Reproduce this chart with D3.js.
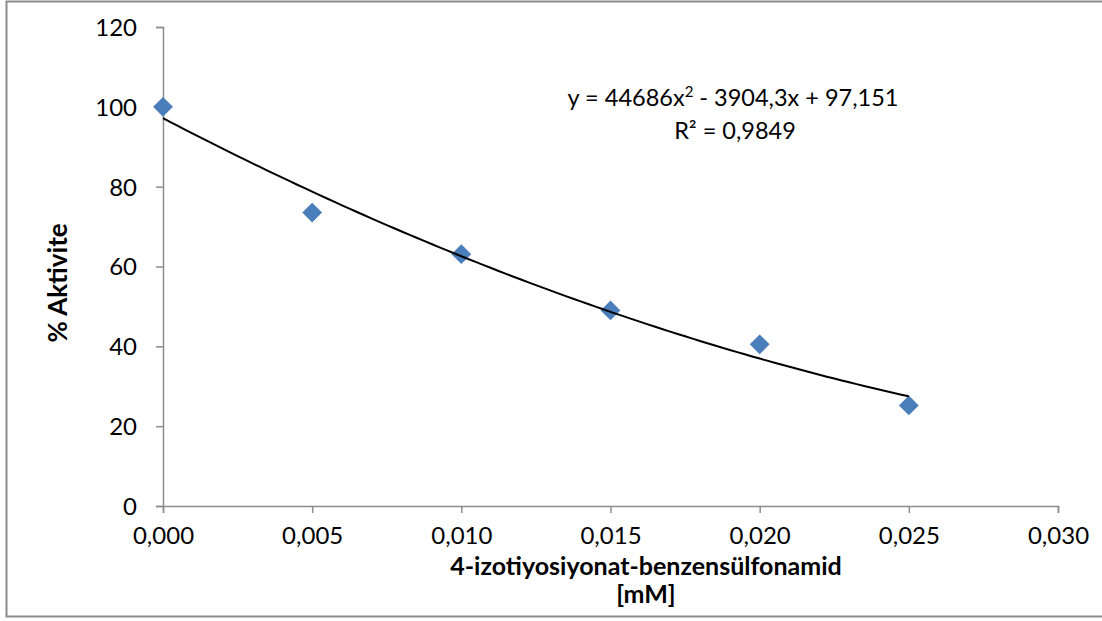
<!DOCTYPE html>
<html>
<head>
<meta charset="utf-8">
<script src="https://cdn.jsdelivr.net/npm/d3@7"></script>
<style>
  html, body { margin: 0; padding: 0; background: #fff; }
  svg { display: block; }
  text { font-family: Lato, "Open Sans", sans-serif; fill: #000; }
</style>
</head>
<body>
<svg id="chart" width="1102" height="621"></svg>
<script>
// Concentration (mM) and remaining activity (%)
const concentrations = [0.000, 0.005, 0.010, 0.015, 0.020, 0.025];
const activity = [100, 73.5, 63.1, 49, 40.5, 25.2];

// Axis ticks
const xTicks = [0.000, 0.005, 0.010, 0.015, 0.020, 0.025, 0.030];
const yTicks = [0, 20, 40, 60, 80, 100, 120];

// Polynomial trendline coefficients (a*x^2 + b*x + c) and its R²
const trendCoefs = [44686, -3904.3, 97.151];
const rSquared = "0,9849";

const svg = d3.select("#chart");
const W = 1102, H = 621;

// Outer chart border
svg.append("rect")
  .attr("x", 6.5).attr("y", 1.5)
  .attr("width", W + 10).attr("height", 615)
  .attr("fill", "#fff")
  .attr("stroke", "#8c8c8c").attr("stroke-width", 2);

const plot = { left: 163, right: 1058, top: 27, bottom: 506 };

const x = d3.scaleLinear().domain([0, 0.030]).range([plot.left, plot.right]);
const y = d3.scaleLinear().domain([0, 120]).range([plot.bottom, plot.top]);

const fmt = d => d3.format(".3f")(d).replace(".", ",");

// X axis
const xAxis = svg.append("g")
  .attr("transform", `translate(0,${plot.bottom})`)
  .call(d3.axisBottom(x).tickValues(xTicks).tickFormat(fmt).tickSize(7).tickPadding(14));
// Y axis
const yAxis = svg.append("g")
  .attr("transform", `translate(${plot.left},0)`)
  .call(d3.axisLeft(y).tickValues(yTicks).tickSize(7).tickPadding(19));

[xAxis, yAxis].forEach(g => {
  g.select(".domain").attr("stroke", "#8c8c8c").attr("stroke-width", 1.5);
  g.selectAll(".tick line").attr("stroke", "#8c8c8c").attr("stroke-width", 1.5);
  g.selectAll(".tick text")
    .attr("font-family", "Lato, 'Open Sans', sans-serif")
    .attr("font-size", 24).attr("fill", "#000");
});
yAxis.selectAll(".tick text").attr("dy", "0.35em");

// Data markers (diamonds)
svg.append("g").selectAll("rect.pt")
  .data(concentrations.map((c, i) => ({ c, v: activity[i] })))
  .join("rect")
  .attr("class", "pt")
  .attr("x", -7).attr("y", -7).attr("width", 14).attr("height", 14)
  .attr("transform", d => `translate(${x(d.c)},${y(d.v)}) rotate(45)`)
  .attr("fill", "#4a7ebb");

// Polynomial trendline across the data range
const poly = t => trendCoefs[0] * t * t + trendCoefs[1] * t + trendCoefs[2];
const xs = d3.range(0, 101).map(i => i / 100 * d3.max(concentrations));
svg.append("path")
  .datum(xs)
  .attr("fill", "none")
  .attr("stroke", "#000")
  .attr("stroke-width", 2)
  .attr("d", d3.line().x(t => x(t)).y(t => y(poly(t))));

// Trendline equation and R²
const eq = svg.append("text")
  .attr("x", 733).attr("y", 106)
  .attr("text-anchor", "middle")
  .attr("font-size", 23.5);
eq.append("tspan").text("y = 44686x");
eq.append("tspan").attr("font-size", 15).attr("dy", -9).text("2");
eq.append("tspan").attr("dy", 9).text(" - 3904,3x + 97,151");

svg.append("text")
  .attr("x", 735).attr("y", 139)
  .attr("text-anchor", "middle")
  .attr("font-size", 23.5)
  .text("R² = " + rSquared);

// Axis titles
svg.append("text")
  .attr("x", 646).attr("y", 575)
  .attr("text-anchor", "middle")
  .attr("font-size", 25).attr("font-weight", "bold")
  .text("4-izotiyosiyonat-benzensülfonamid");
svg.append("text")
  .attr("x", 646).attr("y", 603)
  .attr("text-anchor", "middle")
  .attr("font-size", 25).attr("font-weight", "bold")
  .text("[mM]");

svg.append("text")
  .attr("transform", "translate(67,283) rotate(-90)")
  .attr("text-anchor", "middle")
  .attr("font-size", 26).attr("font-weight", "bold")
  .text("% Aktivite");
</script>
</body>
</html>
